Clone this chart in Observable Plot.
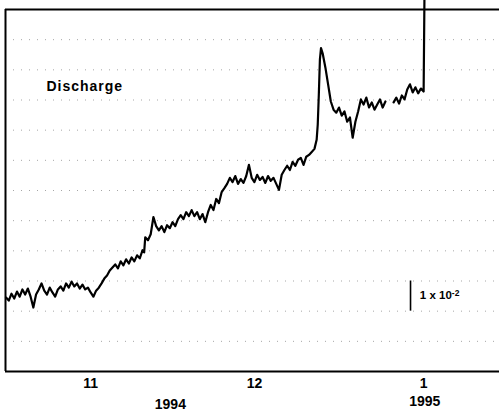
<!DOCTYPE html>
<html>
<head>
<meta charset="utf-8">
<script src="https://cdn.jsdelivr.net/npm/d3@7"></script>
<script src="https://cdn.jsdelivr.net/npm/@observablehq/plot@0.6"></script>
<style>
  html, body { margin: 0; padding: 0; background: #fff; }
  #chart { width: 499px; height: 415px; overflow: hidden; }
</style>
</head>
<body>
<div id="chart"></div>
<script>
// Days counted from 1 November 1994 (UTC)
const dayOffsets = [
  -15.5, -15, -14.5, -14, -13.5, -13, -12.5, -12, -11.5, -11, -10.5, -10,
  -9.5, -9, -8.5, -8, -7.5, -7, -6.5, -6, -5.5, -5, -4.5, -4, -3.5, -3,
  -2.5, -2, -1.5, -1, -0.5, 0, 0.5, 1, 1.5, 2, 2.5, 3, 3.5, 4, 4.5, 5,
  5.5, 6, 6.5, 7, 7.5, 8, 8.5, 9, 9.5, 9.8, 10, 10.5, 11, 11.5, 12, 12.5,
  13, 13.5, 14, 14.5, 15, 15.5, 16, 16.5, 17, 17.5, 18, 18.5, 19, 19.5,
  20, 20.5, 21, 21.5, 22, 22.5, 23, 23.5, 24, 24.5, 25, 25.5, 26, 26.5,
  27, 27.5, 28, 28.5, 29, 29.5, 30, 30.5, 31, 31.5, 32, 32.5, 33, 33.5,
  34, 34.5, 35, 35.5, 36, 36.5, 37, 37.5, 38, 38.5, 39, 39.5, 40, 40.5,
  41, 41.4, 41.6, 41.8, 42, 42.2, 42.5, 43, 43.5, 44, 44.5, 45, 45.5, 46,
  46.5, 47, 47.5, 48, 48.5, 49, 49.5, 50, 50.5, 51, 51.5, 52, 52.5, 53,
  53.5, 54, 54.5, 55.5, 56, 56.5, 57, 57.5, 58, 58.5, 59, 59.5, 60, 60.5,
  61, 61.15
];
// Discharge in units of 1 x 10^-2 (null = gap in the record)
const discharge = [
  2.45, 2.35, 2.58, 2.42, 2.65, 2.48, 2.72, 2.55, 2.75, 2.48, 2.12, 2.55,
  2.72, 2.92, 2.68, 2.55, 2.78, 2.62, 2.48, 2.72, 2.82, 2.68, 2.92, 2.78, 2.98, 2.82,
  2.92, 2.75, 2.88, 2.72, 2.78, 2.62, 2.48, 2.68, 2.78, 2.92, 3.08, 3.18, 3.35, 3.45, 3.55, 3.42,
  3.65, 3.52, 3.72, 3.58, 3.78, 3.65, 3.85, 3.75, 4.02, 3.95, 4.45, 4.35, 4.55, 5.12, 4.82, 4.68,
  4.82, 4.62, 4.85, 4.75, 4.95, 4.82, 5.05, 5.18, 5.05, 5.28, 5.15, 5.35, 5.15, 5.28,
  5.05, 5.22, 4.95, 5.28, 5.52, 5.35, 5.72, 5.58, 5.95, 6.08, 6.22, 6.42, 6.28, 6.48,
  6.22, 6.38, 6.25, 6.48, 6.85, 6.42, 6.28, 6.52, 6.35, 6.45, 6.25, 6.48, 6.32, 6.42,
  6.22, 6.02, 6.52, 6.68, 6.82, 6.68, 6.95, 6.82, 7.02, 7.08, 6.85, 7.12, 7.18, 7.28,
  7.38, 7.68, 8.18, 9.18, 10.35, 10.72, 10.55, 10.08, 9.52, 8.95, 8.68, 8.58, 8.75, 8.48,
  8.62, 8.28, 8.42, 7.75, 8.28, 8.62, 9.02, 8.85, 9.08, 8.75, 8.92, 8.68, 8.85, 9.02,
  8.75, 8.95, null, 8.92, 9.08, 8.88, 9.15, 9.02, 9.35, 9.52, 9.25, 9.42, 9.22, 9.38,
  9.28, 12.4
];
const gridLevels = [1, 2, 3, 4, 5, 6, 7, 8, 9, 10, 11];
const tickDays = [0, 30, 61];
const tickLabels = ["11", "12", "1"];
const yearDays = [14.6, 61.2];
const yearLabels = ["1994", "1995"];
const seriesLabel = "Discharge";
const scaleBarDay = 58.6;
const scaleBarFrom = 2;
const scaleBarTo = 3;
const scaleText = "1 x 10";
const scaleExponent = "-2";

const base = Date.UTC(1994, 10, 1);
const toDate = d => new Date(base + d * 864e5);

const rows = dayOffsets.map((d, i) => ({date: toDate(d), value: discharge[i]}));
const ticks = tickDays.map(toDate);
const tickFmt = new Map(ticks.map((t, i) => [+t, tickLabels[i]]));
const font = "'Liberation Sans', Arial, Helvetica, sans-serif";

const chart = Plot.plot({
  width: 499,
  height: 415,
  marginLeft: 5,
  marginRight: 0,
  marginTop: 9,
  marginBottom: 44,
  style: {fontFamily: font, background: "#fff", color: "#000", overflow: "hidden"},
  x: {type: "utc", domain: [toDate(-15.6), toDate(74.9)], label: null},
  y: {domain: [0, 12], axis: null},
  marks: [
    Plot.ruleY(gridLevels, {stroke: "#000", strokeOpacity: 0.35, strokeDasharray: "1,7"}),
    Plot.line(rows, {x: "date", y: "value", stroke: "#000", strokeWidth: 2.2, strokeLinejoin: "round"}),
    Plot.ruleY([0, 12], {stroke: "#000", strokeWidth: 2}),
    Plot.ruleX([toDate(-15.6)], {stroke: "#000", strokeWidth: 2}),
    Plot.axisX({ticks, tickFormat: d => tickFmt.get(+d), tickSize: 0, tickPadding: 7,
      fontSize: 14, fontWeight: "bold", label: null}),
    Plot.text([yearLabels[0]], {x: () => toDate(yearDays[0]), text: d => d, frameAnchor: "bottom",
      dy: 37.5, fontSize: 14, fontWeight: "bold"}),
    Plot.text([yearLabels[1]], {x: () => toDate(yearDays[1]), text: d => d, frameAnchor: "bottom",
      dy: 34.5, fontSize: 14, fontWeight: "bold"}),
    Plot.text([seriesLabel], {x: () => toDate(-8.1), y: () => 9.46, text: d => d,
      textAnchor: "start", fontSize: 14, fontWeight: "bold"}),
    Plot.ruleX([toDate(scaleBarDay)], {y1: scaleBarFrom, y2: scaleBarTo, stroke: "#000", strokeWidth: 1.6}),
    Plot.text([scaleText], {x: () => toDate(60.3), y: () => 2.52, text: d => d,
      textAnchor: "start", fontSize: 11.5, fontWeight: "bold"}),
    Plot.text([scaleExponent], {x: () => toDate(60.3), y: () => 2.52, text: d => d, dx: 32, dy: -2,
      textAnchor: "start", fontSize: 8.5, fontWeight: "bold"})
  ]
});

d3.select(chart).selectAll("text")
  .filter(function() { return this.textContent === seriesLabel; })
  .attr("letter-spacing", "1px");

document.getElementById("chart").appendChild(chart);
</script>
</body>
</html>
